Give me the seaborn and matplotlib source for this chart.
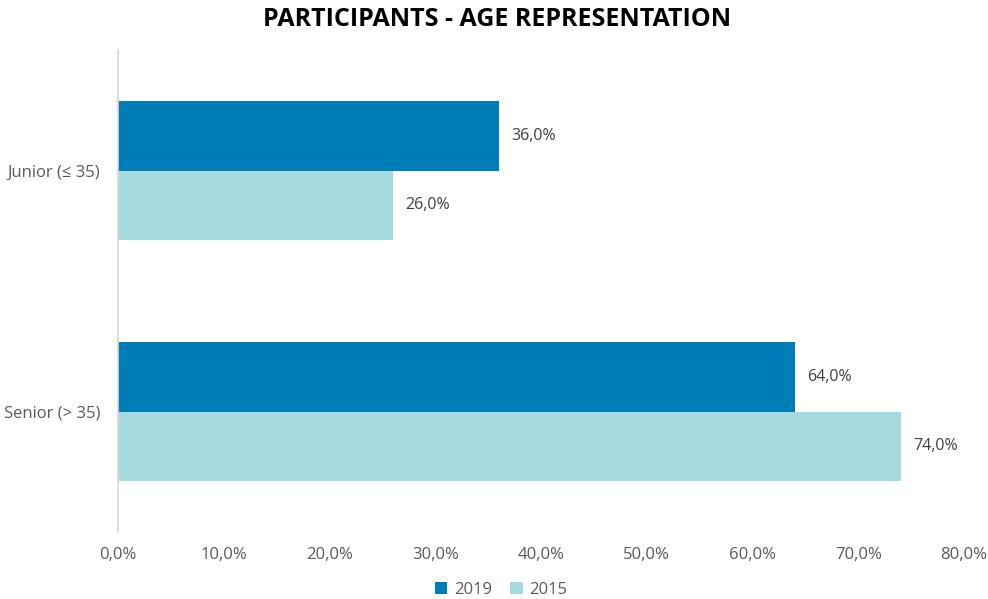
import numpy as np
import pandas as pd
import matplotlib.pyplot as plt
import seaborn as sns

# data
categories = ['Junior (\u2264 35)', 'Senior (> 35)']
years = ['2019', '2015']
vals_2019 = [36.0, 64.0]
vals_2015 = [26.0, 74.0]
colors = ['#007CB6', '#A5DADE']

df = pd.DataFrame({
    'cat': categories * 2,
    'year': [years[0]] * 2 + [years[1]] * 2,
    'val': vals_2019 + vals_2015,
})

sns.set_style('white')
plt.rcParams['font.family'] = ['Open Sans', 'DejaVu Sans']

fig = plt.figure(figsize=(9.88, 5.99), dpi=100)
ax = fig.add_axes([118 / 988, 67 / 599, 846 / 988, 482 / 599])

sns.barplot(data=df, y='cat', x='val', hue='year', hue_order=years,
            palette=colors, orient='h', width=0.573, saturation=1,
            linewidth=0, ax=ax, legend=True)

for cont in ax.containers:
    ax.bar_label(cont, labels=[f'{v:.1f}%'.replace('.', ',') for v in cont.datavalues],
                 padding=9, fontsize=11.5, color='#404040')

ax.set_xlim(0, 80)
ax.set_ylim(1.5, -0.5)
ax.set_xticks(np.arange(0, 81, 10))
ax.set_xticklabels([f'{t:.1f}%'.replace('.', ',') for t in np.arange(0, 81, 10)])
ax.tick_params(axis='both', labelsize=12, colors='#595959', length=0, pad=11)
ax.tick_params(axis='y', pad=13)
ax.set_xlabel('')
ax.set_ylabel('')
for s in ['top', 'right', 'bottom']:
    ax.spines[s].set_visible(False)
ax.spines['left'].set_color('#D9D9D9')
ax.spines['left'].set_linewidth(1.2)

ax.legend(loc='center', bbox_to_anchor=(0.507, 0.015), bbox_transform=fig.transFigure,
          ncol=2, frameon=False,
          fontsize=12, handlelength=0.75, handleheight=0.75, handletextpad=0.4,
          columnspacing=1.1, labelcolor='#595959')

fig.suptitle('PARTICIPANTS - AGE REPRESENTATION', x=0.503, y=0.988,
             fontsize=18, fontweight='bold', color='black')

plt.savefig('out.png', dpi=100)
